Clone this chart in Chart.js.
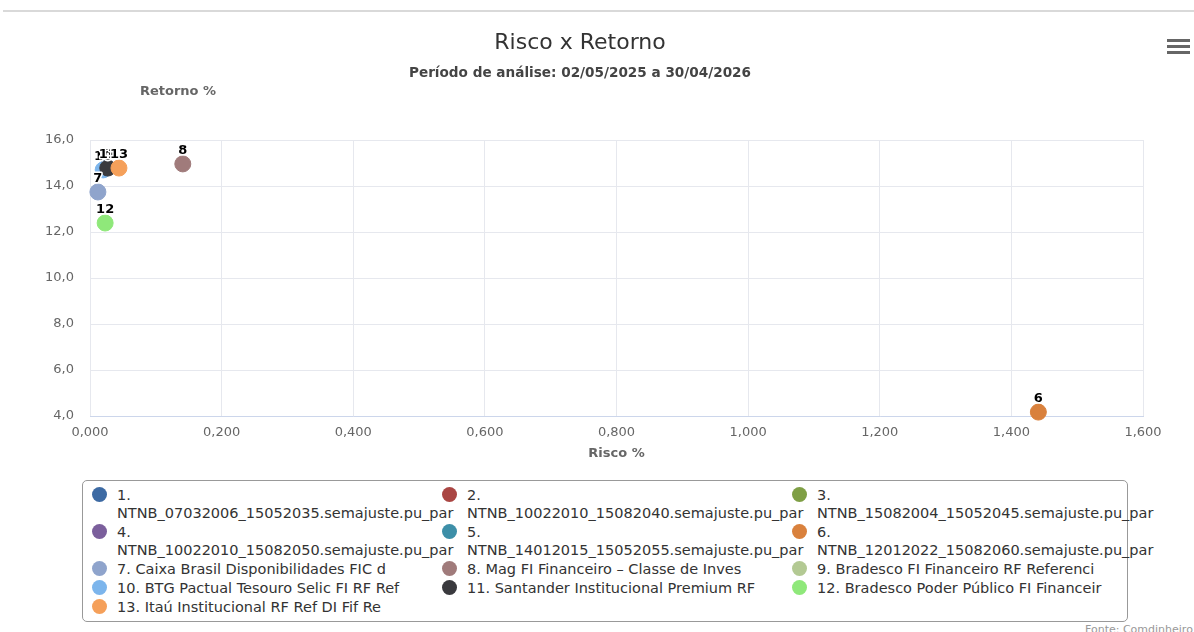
<!DOCTYPE html>
<html lang="pt-BR">
<head>
<meta charset="utf-8">
<title>Risco x Retorno</title>
<script src="https://cdn.jsdelivr.net/npm/chart.js@4.4.1/dist/chart.umd.min.js"></script>
<style>
  body { margin: 0; background: #fff; font-family: "DejaVu Sans", sans-serif; }
  #wrap { position: relative; width: 1194px; height: 632px; overflow: hidden; }
  .topline { position: absolute; left: 3px; right: 0; top: 10px; height: 2px; background: #d9d9d9; }
  #title { position: absolute; top: 29px; left: 0; width: 1160px; text-align: center; font-size: 22px; color: #333; }
  #subtitle { position: absolute; top: 64px; left: 0; width: 1160px; text-align: center; font-size: 13.6px; font-weight: bold; color: #444; }
  #menu { position: absolute; left: 1167px; top: 39px; width: 23px; }
  #menu div { height: 3px; background: #666; margin-bottom: 3px; }
  #chart { position: absolute; left: 0; top: 0; }
  #legend {
    position: absolute; left: 82px; top: 480px; width: 1046px; height: 142px;
    border: 1px solid #999; border-radius: 5px; box-sizing: border-box;
    display: grid; grid-template-columns: 350px 350px 340px; row-gap: 1px;
    padding: 5px 0 0 9px; align-content: start;
  }
  .item { display: flex; align-items: flex-start; font-size: 14.5px; line-height: 18px; color: #333; }
  .dot { flex: none; width: 15px; height: 15px; border-radius: 50%; margin: 1px 10px 0 0; }
  .txt { width: 322px; }
  #fonte { position: absolute; left: 1085px; top: 623px; font-size: 11px; color: #999; }
</style>
</head>
<body>
<div id="wrap">
  <div class="topline"></div>
  <canvas id="chart" width="1194" height="470"></canvas>
  <div id="title">Risco x Retorno</div>
  <div id="subtitle">Período de análise: 02/05/2025 a 30/04/2026</div>
  <div id="menu"><div></div><div></div><div></div></div>
  <div id="legend"></div>
  <div id="fonte">Fonte: Comdinheiro</div>
</div>
<script>
const seriesNames = [
  "1. NTNB_07032006_15052035.semajuste.pu_par",
  "2. NTNB_10022010_15082040.semajuste.pu_par",
  "3. NTNB_15082004_15052045.semajuste.pu_par",
  "4. NTNB_10022010_15082050.semajuste.pu_par",
  "5. NTNB_14012015_15052055.semajuste.pu_par",
  "6. NTNB_12012022_15082060.semajuste.pu_par",
  "7. Caixa Brasil Disponibilidades FIC d",
  "8. Mag FI Financeiro – Classe de Inves",
  "9. Bradesco FI Financeiro RF Referenci",
  "10. BTG Pactual Tesouro Selic FI RF Ref",
  "11. Santander Institucional Premium RF",
  "12. Bradesco Poder Público FI Financeir",
  "13. Itaú Institucional RF Ref DI Fif Re"
];
const pointLabels = ["1", "2", "3", "4", "5", "6", "7", "8", "9", "10", "11", "12", "13"];
// risco % (x) e retorno % (y); null = sem ponto visível
const riscoValues = [0.025, null, null, null, null, 1.441, 0.012, 0.141, null, 0.020, 0.027, 0.023, 0.044];
const retornoValues = [14.80, null, null, null, null, 4.17, 13.74, 14.96, null, 14.70, 14.78, 12.39, 14.78];
const seriesColors = [
  "#3d6aa3", "#aa4643", "#7f9f45", "#7b5f9c", "#3d8fa8", "#d9813d", "#8fa4cc",
  "#a07b7b", "#b3c993", "#7cb5ec", "#3a3a3e", "#8fe87a", "#f5a05a"
];
const xTicks = [0, 1.6, 0.2];
const yTicks = [4, 16, 2];

const FONT = '"DejaVu Sans", sans-serif';

const datasets = seriesNames.map((name, i) => ({
  label: name,
  data: riscoValues[i] == null ? [] : [{ x: riscoValues[i], y: retornoValues[i] }],
  backgroundColor: seriesColors[i],
  borderColor: seriesColors[i],
  pointRadius: 8,
  pointHoverRadius: 9,
  order: -i,
  clip: false
}));

const extrasPlugin = {
  id: "extras",
  afterDatasetsDraw(chart) {
    const ctx = chart.ctx;
    const area = chart.chartArea;
    ctx.save();
    ctx.font = "bold 13px " + FONT;
    ctx.textAlign = "center";
    ctx.textBaseline = "middle";
    ctx.lineJoin = "round";
    chart.data.datasets.forEach((ds, i) => {
      chart.getDatasetMeta(i).data.forEach((pt) => {
        ctx.lineWidth = 3;
        ctx.strokeStyle = "#fff";
        ctx.strokeText(pointLabels[i], pt.x, pt.y - 13);
        ctx.fillStyle = "#000";
        ctx.fillText(pointLabels[i], pt.x, pt.y - 13);
      });
    });

    // axis titles
    ctx.font = "bold 13px " + FONT;
    ctx.fillStyle = "#666";
    ctx.fillText("Risco %", (area.left + area.right) / 2, area.bottom + 38);
    ctx.fillText("Retorno %", 178, area.top - 48);
    ctx.restore();
  }
};

new Chart(document.getElementById("chart"), {
  type: "scatter",
  data: { datasets: datasets },
  options: {
    responsive: false,
    animation: false,
    layout: { padding: { top: 140, left: 40, right: 51, bottom: 4 } },
    plugins: {
      legend: { display: false },
      tooltip: { enabled: true }
    },
    scales: {
      x: {
        type: "linear",
        min: xTicks[0],
        max: xTicks[1],
        ticks: {
          stepSize: xTicks[2],
          padding: 9,
          color: "#666",
          font: { family: FONT, size: 13 },
          callback: (v) => v.toFixed(3).replace(".", ",")
        },
        grid: { color: "#e6e8ee", drawTicks: false },
        border: { color: "#ccd6eb" },
        afterFit: (s) => { s.height = 50; s.paddingLeft = 0; s.paddingRight = 0; }
      },
      y: {
        type: "linear",
        min: yTicks[0],
        max: yTicks[1],
        ticks: {
          stepSize: yTicks[2],
          padding: 16,
          color: "#666",
          font: { family: FONT, size: 13 },
          callback: (v) => v.toFixed(1).replace(".", ",")
        },
        grid: { color: "#e6e8ee", drawTicks: false },
        border: { display: false },
        afterFit: (s) => { s.width = 50; s.paddingTop = 0; s.paddingBottom = 0; }
      }
    }
  },
  plugins: [extrasPlugin]
});

// legenda em HTML, montada a partir das séries
const legend = document.getElementById("legend");
seriesNames.forEach((name, i) => {
  let item = document.createElement("div");
  item.className = "item";
  item.innerHTML = '<span class="dot" style="background:' + seriesColors[i] + '"></span><span class="txt"></span>';
  item.querySelector(".txt").textContent = name;
  legend.appendChild(item);
});
</script>
</body>
</html>
